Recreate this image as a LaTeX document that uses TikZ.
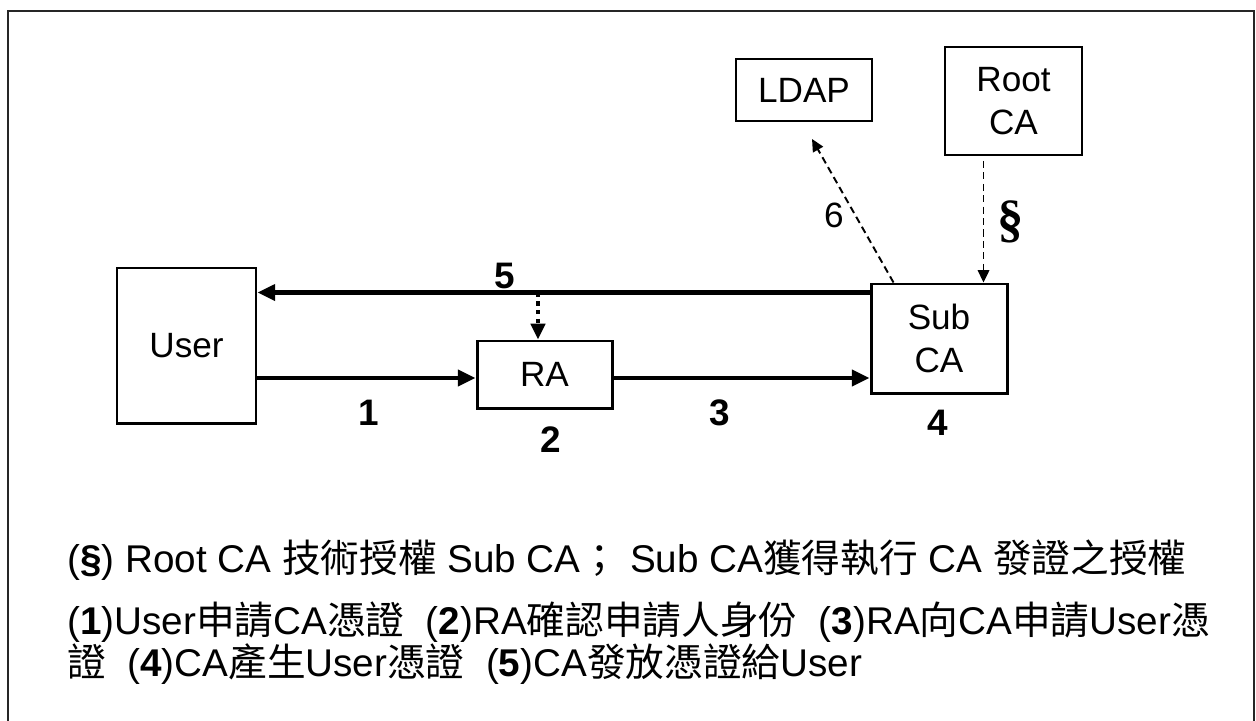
\documentclass[tikz,border=0pt]{standalone}
\usepackage{fontspec}
\setmainfont{Liberation Sans}
\newfontfamily\zhfont{Noto Sans CJK TC}
\newfontfamily\sectfont{Liberation Serif}
\newcommand{\zh}[1]{{\zhfont #1}}
\usetikzlibrary{arrows.meta,calc,positioning}

\begin{document}
\begin{tikzpicture}[x=0.02cm,y=-0.02cm,
                    every node/.style={font=\fontsize{20}{24}\selectfont},
                    entity/.style={draw,line width=1.7pt,inner sep=0pt,align=center},
                    server/.style={draw,line width=1.1pt,inner sep=0pt,align=center},
                    flow/.style={line width=2.3pt,-{Triangle[length=10pt,width=9pt]}},
                    notify/.style={line width=1.1pt,dash pattern=on 4pt off 2.5pt,-{Triangle[length=7pt,width=6.5pt]}},
                    stepno/.style={font=\fontsize{21}{25}\selectfont\bfseries},
                    legend/.style={anchor=west,inner sep=0pt,font=\fontsize{22}{26}\selectfont}]

  \useasboundingbox (0,0) rectangle (1256,720);
  \clip (0,0) rectangle (1256,720);
  \draw[line width=1.6pt,black!85] (8,740) -- (8,11) -- (1254,11) -- (1254,740);

  % --- parties -------------------------------------------------------------
  \node[entity,minimum width=139*0.02cm,minimum height=155*0.02cm] (user) at (186.5,345.5) {User};
  \node[entity,minimum width=135*0.02cm,minimum height=67*0.02cm] (ra) at (544.5,374.5) {RA};
  \node[entity,minimum width=136*0.02cm,minimum height=109*0.02cm] (subca) at (939,338.5) {Sub\\CA};
  \node[server,minimum width=136*0.02cm,minimum height=62*0.02cm] (ldap) at (804,90) {LDAP};
  \node[server,minimum width=137*0.02cm,minimum height=108*0.02cm] (root) at (1013.5,101) {Root\\CA};

  % --- request / issue flow ------------------------------------------------
  \coordinate (issue) at ($(subca.north west)+(0,10)$);
  \draw[flow] (issue) -- (issue -| user.east);
  \draw[flow] (user.east |- 0,378) -- (ra.west |- 0,378);
  \draw[flow] (ra.east |- 0,378) -- (subca.west |- 0,378);
  \draw[line width=2.3pt,dash pattern=on 2.5pt off 2.5pt,-{Triangle[length=9pt,width=8pt]}]
      (issue -| 538,0) -- (ra.north -| 538,0);

  % --- publishing and authorisation ---------------------------------------
  \coordinate (ldapin) at ($(ldap.south)+(8,17)$);
  \coordinate (rootout) at ($(root.south)+(-30,5)$);
  \draw[notify] ($(subca.north west)+(24,0)$) -- (ldapin);
  \draw[notify] (rootout) -- (rootout |- subca.north);

  % --- step numbers --------------------------------------------------------
  \node[stepno] (n5) at (505,276) {5};
  \node[stepno] (n1) at (369,413) {1};
  \node[stepno] (n2) at (551,440) {2};
  \node[stepno] (n3) at (720,413) {3};
  \node[stepno] (n4) at (938,423) {4};
  \node (n6) at (834,215) {6};
  \node[font=\fontsize{30}{30}\selectfont\sectfont\bfseries] (sect) at (1011,222) {§};

  % --- legend --------------------------------------------------------------
  \node[legend] (l1) at (67,560)
      {(\textbf{§}) Root CA \zh{技術授權} Sub CA\zh{；} Sub CA\zh{獲得執行} CA \zh{發證之授權}};
  \node[legend] (l2) at (67,622)
      {(\textbf{1})User\zh{申請}CA\zh{憑證}\ \ (\textbf{2})RA\zh{確認申請人身份}\ \ (\textbf{3})RA\zh{向}CA\zh{申請}User\zh{憑}};
  \node[legend] (l3) at (67,664)
      {\zh{證}\ \ (\textbf{4})CA\zh{產生}User\zh{憑證}\ \ (\textbf{5})CA\zh{發放憑證給}User};
\end{tikzpicture}
\end{document}
